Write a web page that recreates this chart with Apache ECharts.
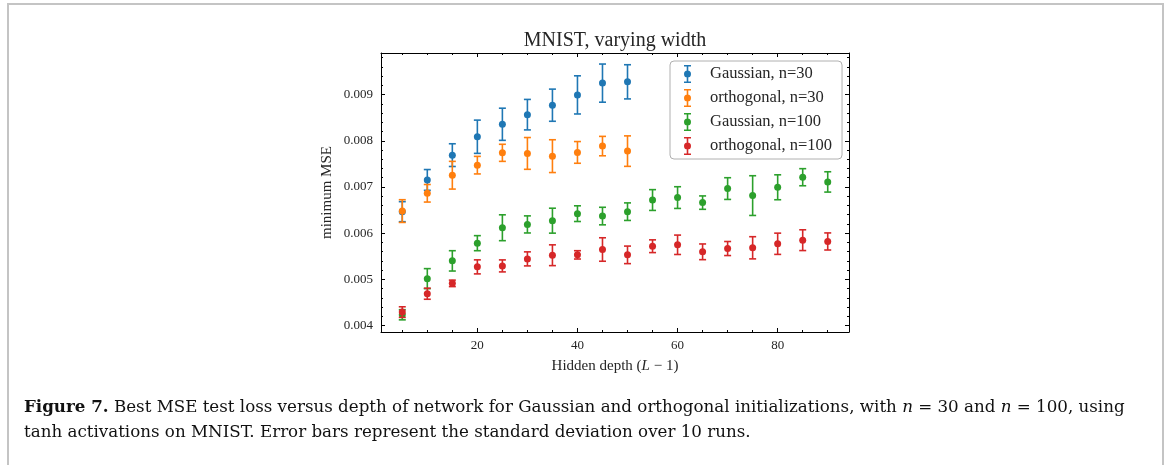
<!DOCTYPE html>
<html>
<head>
<meta charset="utf-8">
<script src="https://cdn.jsdelivr.net/npm/echarts@6/dist/echarts.min.js"></script>
<style>
html,body{margin:0;padding:0;background:#fff;}
#chart{width:1168px;height:465px;}
</style>
</head>
<body>
<div id="chart"></div>
<script>
// ---- data ----
const depths30 = [5, 10, 15, 20, 25, 30, 35, 40, 45, 50];
const gauss30 = [0.006465, 0.007152, 0.007689, 0.008087, 0.008357, 0.008565, 0.008770, 0.008993, 0.009248, 0.009276];
const gauss30Err = [0.000217, 0.000225, 0.000246, 0.000360, 0.000348, 0.000330, 0.000348, 0.000413, 0.000413, 0.000370];
const ortho30 = [0.006478, 0.006863, 0.007254, 0.007472, 0.007739, 0.007726, 0.007667, 0.007748, 0.007885, 0.007776];
const ortho30Err = [0.000246, 0.000190, 0.000300, 0.000190, 0.000185, 0.000344, 0.000355, 0.000235, 0.000210, 0.000330];
const depths100 = [5, 10, 15, 20, 25, 30, 35, 40, 45, 50, 55, 60, 65, 70, 75, 80, 85, 90];
const gauss100 = [0.004233, 0.005015, 0.005400, 0.005783, 0.006117, 0.006189, 0.006270, 0.006422, 0.006370, 0.006465, 0.006717, 0.006770, 0.006661, 0.006965, 0.006813, 0.006993, 0.007211, 0.007109];
const gauss100Err = [0.000110, 0.000217, 0.000220, 0.000163, 0.000280, 0.000185, 0.000270, 0.000170, 0.000190, 0.000190, 0.000225, 0.000235, 0.000145, 0.000235, 0.000430, 0.000270, 0.000185, 0.000220];
const ortho100 = [0.004291, 0.004689, 0.004913, 0.005270, 0.005291, 0.005443, 0.005522, 0.005530, 0.005646, 0.005530, 0.005717, 0.005748, 0.005596, 0.005667, 0.005683, 0.005770, 0.005848, 0.005820];
const ortho100Err = [0.000115, 0.000120, 0.000070, 0.000152, 0.000130, 0.000152, 0.000225, 0.000090, 0.000254, 0.000190, 0.000138, 0.000210, 0.000170, 0.000152, 0.000240, 0.000230, 0.000225, 0.000185];
const seriesNames = ['Gaussian, n=30', 'orthogonal, n=30', 'Gaussian, n=100', 'orthogonal, n=100'];
const seriesColors = ['#1f77b4', '#ff7f0e', '#2ca02c', '#d62728'];
// tick labels / tick positions
const xTicks = [20, 40, 60, 80];
const xMinorTicks = [5, 10, 15, 20, 25, 30, 35, 40, 45, 50, 55, 60, 65, 70, 75, 80, 85, 90];
const yTicks = [0.004, 0.005, 0.006, 0.007, 0.008, 0.009];
const yMinorTicks = [0.0040, 0.0042, 0.0044, 0.0046, 0.0048, 0.0050, 0.0052, 0.0054, 0.0056, 0.0058,
  0.0060, 0.0062, 0.0064, 0.0066, 0.0068, 0.0070, 0.0072, 0.0074, 0.0076, 0.0078,
  0.0080, 0.0082, 0.0084, 0.0086, 0.0088, 0.0090, 0.0092, 0.0094, 0.0096, 0.0098];

// ---- chart ----
const SERIF = '"Liberation Serif", "DejaVu Serif", serif';
const CAPFONT = '"DejaVu Serif", serif';
const TXT = '#262626';
const groups = [
  [depths30, gauss30, gauss30Err],
  [depths30, ortho30, ortho30Err],
  [depths100, gauss100, gauss100Err],
  [depths100, ortho100, ortho100Err]
];
const X_MIN = 0.75, X_MAX = 94.25, Y_MIN = 0.00386, Y_MAX = 0.0099;
const GRID = { left: 381, right: 319, top: 53, bottom: 133, show: false };

const errIcon = 'path://M0.5 0H7.5V1.6H0.5Z M0.5 16.4H7.5V18H0.5Z M3.2 0H4.8V18H3.2Z M0.5 9A3.5 3.5 0 1 1 7.5 9A3.5 3.5 0 1 1 0.5 9Z';

const series = [];
groups.forEach((g, i) => {
  const [xs, ys, es] = g;
  const color = seriesColors[i];
  series.push({
    name: seriesNames[i],
    type: 'custom',
    xAxisIndex: 0, yAxisIndex: 0,
    z: 2 + i * 2,
    silent: true,
    data: xs.map((x, k) => [x, ys[k] - es[k], ys[k] + es[k]]),
    encode: { x: 0, y: [1, 2] },
    renderItem: function (params, api) {
      const x = api.value(0);
      const lo = api.coord([x, api.value(1)]);
      const hi = api.coord([x, api.value(2)]);
      const hw = 3.5;
      const st = { stroke: color, lineWidth: 1.6 };
      return {
        type: 'group',
        children: [
          { type: 'line', shape: { x1: lo[0], y1: lo[1], x2: hi[0], y2: hi[1] }, style: st },
          { type: 'line', shape: { x1: lo[0] - hw, y1: lo[1], x2: lo[0] + hw, y2: lo[1] }, style: st },
          { type: 'line', shape: { x1: hi[0] - hw, y1: hi[1], x2: hi[0] + hw, y2: hi[1] }, style: st }
        ]
      };
    }
  });
  series.push({
    name: seriesNames[i],
    type: 'scatter',
    xAxisIndex: 0, yAxisIndex: 0,
    z: 3 + i * 2,
    symbol: 'circle',
    symbolSize: 7,
    itemStyle: { color: color, opacity: 1 },
    silent: true,
    data: xs.map((x, k) => [x, ys[k]])
  });
});

function xAx(gridIndex, pos, ticks, major, lab) {
  const o = {
    type: 'value', gridIndex: gridIndex, position: pos, min: X_MIN, max: X_MAX,
    axisLine: { show: major, lineStyle: { color: '#000', width: 1 } },
    axisTick: { show: true, inside: true, length: major ? 4 : 2, customValues: ticks, lineStyle: { color: '#000', width: 1 } },
    axisLabel: { show: false },
    splitLine: { show: false }
  };
  if (lab) {
    o.axisLabel = { show: true, customValues: ticks, margin: 7, color: TXT, fontFamily: SERIF, fontSize: 13,
      formatter: v => String(Math.round(Number(v))) };
    o.name = '{r|Hidden depth (}{i|L}{r| − 1)}';
    o.nameLocation = 'middle';
    o.nameGap = 27;
    o.nameTextStyle = { rich: {
      r: { fontFamily: SERIF, fontSize: 15, color: TXT },
      i: { fontFamily: SERIF, fontSize: 15, color: TXT, fontStyle: 'italic' }
    } };
  }
  return o;
}
function yAx(gridIndex, pos, ticks, major, lab) {
  const o = {
    type: 'value', gridIndex: gridIndex, position: pos, min: Y_MIN, max: Y_MAX,
    axisLine: { show: major, lineStyle: { color: '#000', width: 1 } },
    axisTick: { show: true, inside: true, length: major ? 4 : 2, customValues: ticks, lineStyle: { color: '#000', width: 1 } },
    axisLabel: { show: false },
    splitLine: { show: false }
  };
  if (lab) {
    o.axisLabel = { show: true, customValues: ticks, margin: 8, color: TXT, fontFamily: SERIF, fontSize: 13,
      formatter: v => Number(v).toFixed(3) };
    o.name = 'minimum MSE';
    o.nameLocation = 'middle';
    o.nameGap = 46;
    o.nameTextStyle = { fontFamily: SERIF, fontSize: 15, color: TXT };
  }
  return o;
}

const option = {
  animation: false,
  backgroundColor: '#fff',
  grid: [Object.assign({}, GRID), Object.assign({}, GRID)],
  title: [
    {
      text: 'MNIST, varying width', left: 610, top: 26, textAlign: 'center',
      textStyle: { fontFamily: SERIF, fontSize: 20, fontWeight: 'normal', color: TXT }
    },
    {
      text: '{b|Figure 7.} Best MSE test loss versus depth of network for Gaussian and orthogonal initializations, with {i|n} = 30 and {i|n} = 100, using\ntanh activations on MNIST. Error bars represent the standard deviation over 10 runs.',
      left: 19, top: 390,
      textStyle: {
        fontFamily: CAPFONT, fontSize: 16.7, fontWeight: 'normal', color: '#111', lineHeight: 25,
        rich: {
          b: { fontFamily: CAPFONT, fontSize: 16.7, fontWeight: 'bold', color: '#111' },
          i: { fontFamily: CAPFONT, fontSize: 16.7, fontStyle: 'italic', color: '#111' }
        }
      }
    }
  ],
  legend: {
    orient: 'vertical', left: 670, top: 61,
    itemWidth: 7, itemHeight: 18, itemGap: 6,
    padding: [4, 10, 4, 14],
    borderColor: '#b0b0b0', borderWidth: 1, borderRadius: 4,
    backgroundColor: 'rgba(255,255,255,0.8)',
    textStyle: { fontFamily: SERIF, fontSize: 16.5, color: TXT, padding: [0, 0, 0, 14] },
    selectedMode: false,
    data: seriesNames.map((n, i) => ({ name: n, icon: errIcon, itemStyle: { color: seriesColors[i] } }))
  },
  xAxis: [
    xAx(0, 'bottom', xTicks, true, true),
    xAx(1, 'top', xTicks, true, false),
    xAx(1, 'bottom', xMinorTicks, false, false),
    xAx(1, 'top', xMinorTicks, false, false)
  ],
  yAxis: [
    yAx(0, 'left', yTicks, true, true),
    yAx(1, 'right', yTicks, true, false),
    yAx(1, 'left', yMinorTicks, false, false),
    yAx(1, 'right', yMinorTicks, false, false)
  ],
  graphic: [
    { type: 'rect', shape: { x: 8, y: 4, width: 1155, height: 520 }, style: { fill: 'none', stroke: '#c4c4c4', lineWidth: 2 }, silent: true }
  ],
  series: series
};

const chart = echarts.init(document.getElementById('chart'), null, { renderer: 'canvas' });
chart.setOption(option);
</script>
</body>
</html>
